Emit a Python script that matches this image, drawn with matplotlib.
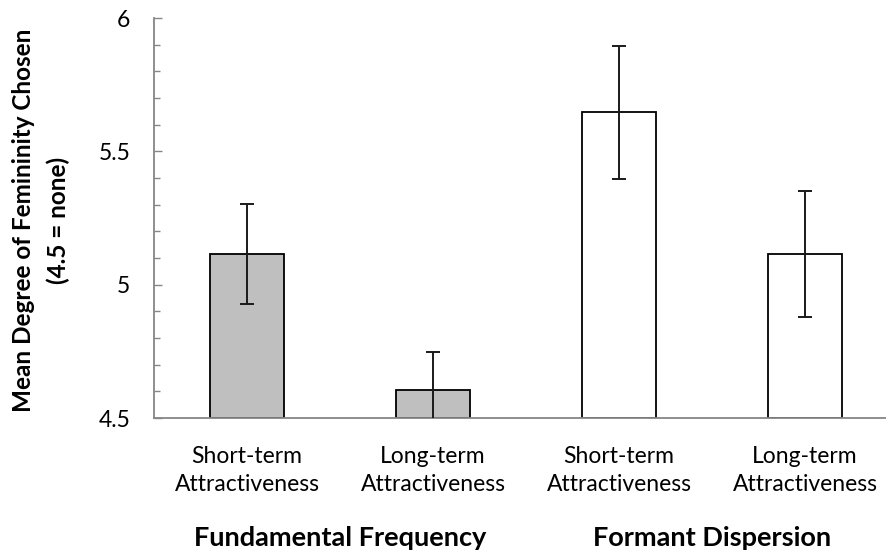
import numpy as np
import matplotlib
matplotlib.use("Agg")
import matplotlib.pyplot as plt
from matplotlib.ticker import MultipleLocator
from matplotlib.transforms import blended_transform_factory

plt.rcParams["font.family"] = ["Lato", "DejaVu Sans"]

# values
conditions = ["Short-term\nAttractiveness", "Long-term\nAttractiveness",
              "Short-term\nAttractiveness", "Long-term\nAttractiveness"]
groups = ["Fundamental Frequency", "Formant Dispersion"]
means = [5.115, 4.606, 5.646, 5.115]
errors = [0.187, 0.142, 0.250, 0.236]
fills = ["#bfbfbf", "#bfbfbf", "white", "white"]

AXIS = "#868686"

fig = plt.figure(figsize=(8.86, 5.52), dpi=100)
ax = fig.add_axes([154/886, 134/552, 744/886, 400/552])

x = np.arange(len(means))
ax.bar(x, np.array(means) - 4.5, bottom=4.5, width=0.403, color=fills,
       edgecolor="black", linewidth=1.3, zorder=2)
ax.errorbar(x, means, yerr=errors, fmt="none", ecolor="#1a1a1a",
            elinewidth=1.4, capsize=5, capthick=1.4, zorder=3)

ax.set_xlim(-0.5, 3.5)
ax.set_ylim(4.5, 6)
ax.yaxis.set_minor_locator(MultipleLocator(0.1))
ax.set_yticks([4.5, 5, 5.5, 6], ["4.5", "5", "5.5", "6"])
ax.tick_params(axis="y", which="both", direction="in", color=AXIS, width=1.0)
ax.tick_params(axis="y", which="major", length=6, pad=17, labelsize=16.5)
ax.tick_params(axis="y", which="minor", length=4.5)
ax.set_xticks(x, conditions)
ax.tick_params(axis="x", length=0, pad=20, labelsize=16.5)
for lab in ax.get_xticklabels():
    lab.set_linespacing(1.4)

for s in ("top", "right"):
    ax.spines[s].set_visible(False)
for s in ("left", "bottom"):
    ax.spines[s].set_color(AXIS)
    ax.spines[s].set_linewidth(1.3)

trans = blended_transform_factory(ax.transData, ax.transAxes)
for i, g in enumerate(groups):
    ax.text(2 * i + 0.5, -0.3, g, transform=trans, ha="center", va="center",
            fontsize=19.5, fontweight="bold")

fig.text(41/886, 1 - 220/552, "Mean Degree of Femininity Chosen\n(4.5 = none)",
         rotation=90, ha="center", va="center", multialignment="center",
         fontsize=17.5, fontweight="bold", linespacing=1.55)

fig.savefig("out.png", dpi=100)
